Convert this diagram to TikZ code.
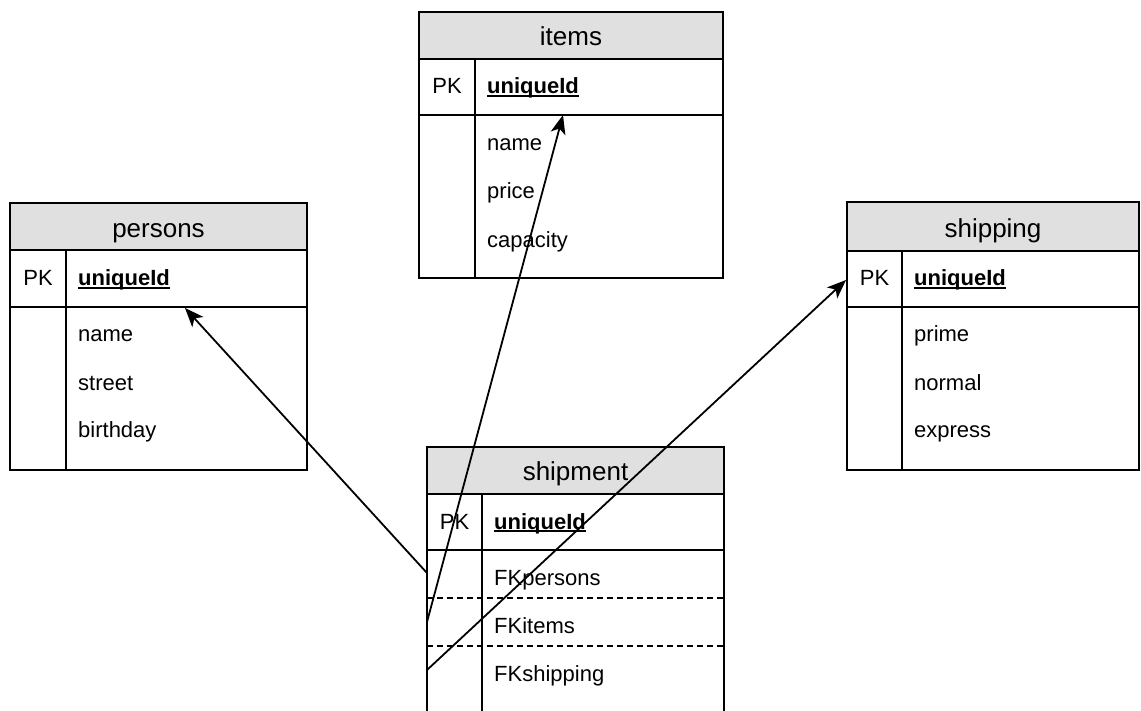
\documentclass[tikz,border=0pt]{standalone}
\usepackage{fontspec}
\setmainfont{Liberation Sans}
\usetikzlibrary{arrows.meta}
\definecolor{headgray}{RGB}{224,224,224}
\newcommand\keyul[1]{\setbox0\hbox{\bfseries #1}\rlap{\rule[-3pt]{\wd0}{1.6pt}}\box0}
\begin{document}
\begin{tikzpicture}[x=1pt,y=-1pt,
  tbl/.style={draw=black, line width=1.9pt},
  hdr/.style={fill=headgray},
  title/.style={anchor=base, font=\fontsize{26}{30}\selectfont, inner sep=0pt},
  pk/.style={anchor=base, font=\fontsize{22}{26}\selectfont, inner sep=0pt},
  field/.style={anchor=base west, font=\fontsize{22}{26}\selectfont, inner sep=0pt},
  sep/.style={draw=black, line width=1.4pt, dash pattern=on 6pt off 4pt},
  fk/.style={-{Stealth[length=19pt,width=15pt,inset=5pt]}, line width=1.8pt}
]
\useasboundingbox (0,0) rectangle (1141,711);
\fill[white] (0,0) rectangle (1141,711);

% ---------- items ----------
\fill[hdr] (419,12) rectangle (723,59);
\draw[tbl] (419,12) rectangle (723,278);
\draw[tbl] (419,59) -- (723,59);
\draw[tbl] (419,115) -- (723,115);
\draw[tbl] (475,59) -- (475,278);
\node[title] (items-t) at (571,46) {items};
\node[pk] (items-pk) at (447,94) {PK};
\node[field] (items-id) at (487,94) {\keyul{uniqueId}};
\node[field] (items-f1) at (487,151) {name};
\node[field] (items-f2) at (487,199) {price};
\node[field] (items-f3) at (487,248) {capacity};

% ---------- persons ----------
\fill[hdr] (10,203) rectangle (307,250);
\draw[tbl] (10,203) rectangle (307,470);
\draw[tbl] (10,250) -- (307,250);
\draw[tbl] (10,307) -- (307,307);
\draw[tbl] (66,250) -- (66,470);
\node[title] (pers-t) at (158.5,238) {persons};
\node[pk] (pers-pk) at (38,286) {PK};
\node[field] (pers-id) at (78,286) {\keyul{uniqueId}};
\node[field] (pers-f1) at (78,342) {name};
\node[field] (pers-f2) at (78,390) {street};
\node[field] (pers-f3) at (78,437) {birthday};

% ---------- shipping ----------
\fill[hdr] (847,202) rectangle (1139,251);
\draw[tbl] (847,202) rectangle (1139,470);
\draw[tbl] (847,251) -- (1139,251);
\draw[tbl] (847,307) -- (1139,307);
\draw[tbl] (902,251) -- (902,470);
\node[title] (ship-t) at (993,238) {shipping};
\node[pk] (ship-pk) at (874.5,286) {PK};
\node[field] (ship-id) at (914,286) {\keyul{uniqueId}};
\node[field] (ship-f1) at (914,342) {prime};
\node[field] (ship-f2) at (914,390) {normal};
\node[field] (ship-f3) at (914,437) {express};

% ---------- shipment ----------
\fill[hdr] (427,447) rectangle (724,494);
\draw[tbl] (427,725) -- (427,447) -- (724,447) -- (724,725);
\draw[tbl] (427,494) -- (724,494);
\draw[tbl] (427,550) -- (724,550);
\draw[tbl] (482,494) -- (482,725);
\draw[sep] (427,598) -- (724,598);
\draw[sep] (427,646) -- (724,646);
\node[title] (shp-t) at (575.5,480) {shipment};
\node[pk] (shp-pk) at (454.5,529) {PK};
\node[field] (shp-id) at (494,529) {\keyul{uniqueId}};
\node[field] (shp-f1) at (494,585) {FKpersons};
\node[field] (shp-f2) at (494,633) {FKitems};
\node[field] (shp-f3) at (494,681) {FKshipping};

% ---------- connectors ----------
\coordinate (shp-fkp) at (427,573);
\coordinate (shp-fki) at (427,622);
\coordinate (shp-fks) at (427,670);
\coordinate (pers-key) at (185,308);
\coordinate (items-key) at (563,115);
\coordinate (ship-key) at (846,280);
\draw[fk] (shp-fkp) -- (pers-key);
\draw[fk] (shp-fki) -- (items-key);
\draw[fk] (shp-fks) -- (ship-key);
\end{tikzpicture}
\end{document}
